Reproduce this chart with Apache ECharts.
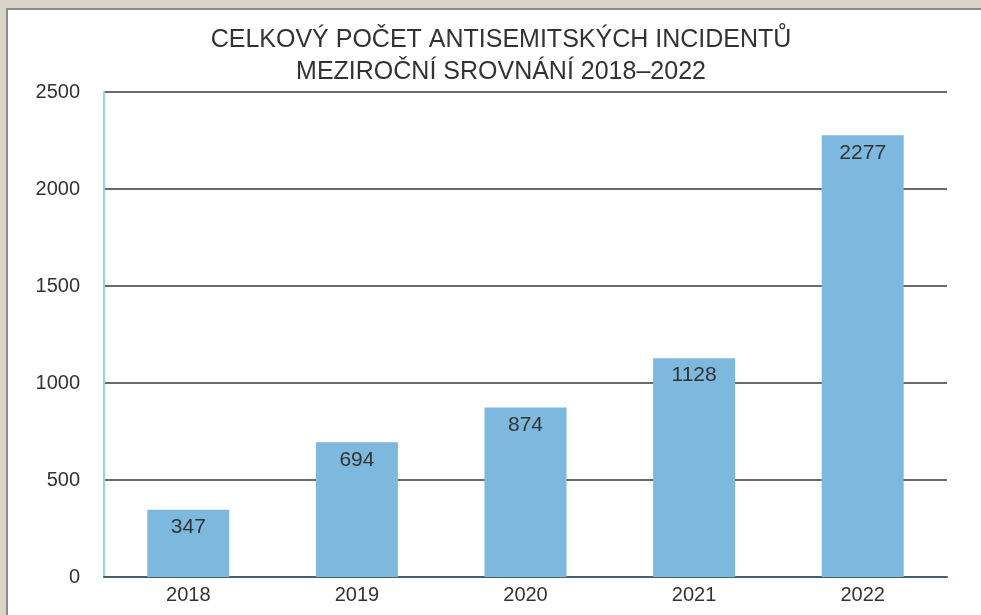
<!DOCTYPE html>
<html>
<head>
<meta charset="utf-8">
<script src="https://cdn.jsdelivr.net/npm/echarts@6/dist/echarts.min.js"></script>
<style>
    html, body { margin: 0; padding: 0; background: #d9d4c8; }
    .frame {
        position: absolute; left: 6px; top: 8px; width: 980px; height: 610px;
        background: #fff; border-left: 2px solid #8a8a8a; border-top: 2px solid #8a8a8a;
    }
    #chart { position: absolute; left: 0; top: 0; width: 981px; height: 615px; }
</style>
</head>
<body>
<div class="frame"></div>
<div id="chart"></div>
<script>
const years = ['2018', '2019', '2020', '2021', '2022']
const incidents = [347, 694, 874, 1128, 2277]
const titleLines = ['CELKOVÝ POČET ANTISEMITSKÝCH INCIDENTŮ', 'MEZIROČNÍ SROVNÁNÍ 2018–2022']

const font = '"Liberation Sans", Arial, sans-serif'

let chart = echarts.init(document.getElementById('chart'))
let option = {
    backgroundColor: 'transparent',
    title: {
        text: titleLines.join('\n'),
        left: 496,
        textAlign: 'center',
        top: 19,
        textStyle: {
            fontFamily: font,
            fontSize: 25,
            fontWeight: 'normal',
            color: '#333',
            lineHeight: 32
        }
    },
    grid: {
        left: 104,
        right: 34,
        top: 92,
        bottom: 38
    },
    xAxis: {
        type: 'category',
        data: years,
        axisLine: { lineStyle: { color: '#4a6068', width: 2 } },
        axisTick: { show: false },
        axisLabel: {
            fontFamily: font,
            fontSize: 20,
            color: '#333',
            margin: 8
        }
    },
    yAxis: {
        type: 'value',
        min: 0,
        max: 2500,
        interval: 500,
        axisLine: { show: true, lineStyle: { color: '#8fd8ec', width: 2 } },
        axisTick: { show: false },
        axisLabel: {
            fontFamily: font,
            fontSize: 20,
            color: '#333',
            margin: 24,
            formatter: v => String(v)
        },
        splitLine: { lineStyle: { color: '#6a6a6a', width: 2 } }
    },
    series: [
        {
            type: 'bar',
            data: incidents,
            barWidth: 82,
            itemStyle: { color: '#7db8de' },
            label: {
                show: true,
                position: 'insideTop',
                distance: 7,
                fontFamily: font,
                fontSize: 21,
                color: '#333'
            }
        }
    ]
}
chart.setOption(option)
</script>
</body>
</html>
